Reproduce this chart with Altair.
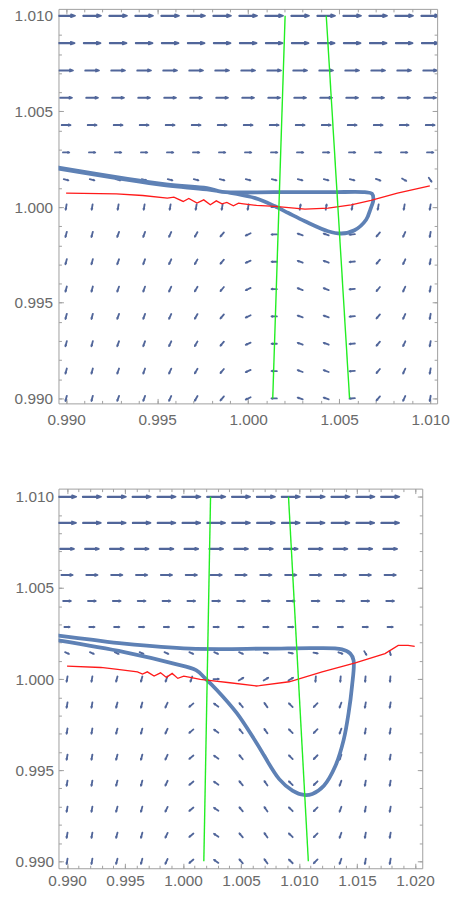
import altair as alt
import pandas as pd

# ---------------- data: top panel (A) ----------------
A_cols = [0.99, 0.991429, 0.992857, 0.994286, 0.995714, 0.997143, 0.998571, 1.0,
          1.001429, 1.002857, 1.004286, 1.005714, 1.007143, 1.008571, 1.01]
A_rows = [1.01, 1.008571, 1.007143, 1.005714, 1.004286, 1.002857, 1.001429, 1.0,
          0.998571, 0.997143, 0.995714, 0.994286, 0.992857, 0.991429, 0.99]
A_speed = [18, 17, 14, 12, 9, 6.5, 5, 5.5, 5.5, 5.5, 5.5, 5.5, 5.5, 5.5, 5.5]
A_dir_row6 = [-15] * 12 + [-20, -30, -55]
A_dir_row7 = [260] * 8 + [0, 80, 80] + [260] * 4
A_dir_low = [255, 255, 250, 250, 245, 240, 230, 205, 180, 160, 160, 185, 230, 245, 260]

A_blue_x = [0.98958, 0.99549, 0.99774, 1.00039, 1.00148, 1.00221, 1.00312, 1.00439, 1.00511,
            1.00584, 1.00648, 1.00672, 1.00688, 1.00680, 1.00640, 1.00457, 1.00148, 0.99857,
            0.99774, 0.99549, 0.98958]
A_blue_y = [1.00201, 1.00113, 1.00092, 1.00047, 1.00004, 0.99969, 0.99926, 0.99874, 0.99862,
            0.99879, 0.99934, 0.99990, 1.00040, 1.00070, 1.00078, 1.00078, 1.00078, 1.00080,
            1.00099, 1.00119, 1.00207]

A_red_x = [0.99000, 0.99276, 0.99421, 0.99556, 0.99592, 0.99643, 0.99674, 0.99719, 0.99756,
           0.99792, 0.99825, 0.99856, 0.99883, 0.99919, 0.99947, 0.99974, 1.00046, 1.00148,
           1.00312, 1.00439, 1.00566, 1.00675, 1.00820, 1.00998]
A_red_y = [1.000725, 1.000689, 1.000606, 1.000466, 1.000518, 1.000295, 1.000451, 1.000207,
           1.000378, 1.000119, 1.000326, 1.000171, 1.000244, 1.000067, 1.000207, 1.000171,
           1.000088, 1.000036, 0.999896, 0.999948, 1.000119, 1.000347, 1.000725, 1.001104]

A_green1_x = [1.00135, 1.00203]
A_green2_x = [1.00557, 1.00429]
green_y = [0.990, 1.010]

# ---------------- data: bottom panel (B) ----------------
B_cols = [0.99, 0.992143, 0.994286, 0.996429, 0.998571, 1.000714, 1.002857, 1.005,
          1.007143, 1.009286, 1.011429, 1.013571, 1.015714, 1.017857]
B_rows = A_rows
B_speed = [18.5, 18, 14, 11.5, 8, 5.5, 4.5, 5.5, 5.5, 5.5, 5.5, 5.5, 5.5, 5.5, 5.5]
B_dir_row6 = [-25] * 8 + [-10, -10, -10, -20, -60, -75]
B_dir_row7 = [260, 260, 255, 255, 250, 250, 0, 30, 30, 30, 265, 265, 265, 265]
B_dir_low = [260, 260, 255, 255, 245, 220, 145, 130, 125, 135, 225, 250, 260, 260]

B_blue_x = [0.98926, 0.99493, 0.99920, 1.00112, 1.00191, 1.00291, 1.00462, 1.00632, 1.00829,
            1.00943, 1.01043, 1.01114, 1.01214, 1.01313, 1.01385, 1.01427, 1.01456, 1.01470,
            1.01442, 1.01370, 1.01143, 1.00715, 1.00062, 0.99493, 0.99208, 0.98926]
B_blue_y = [1.00212, 1.00148, 1.00085, 1.00049, 1.00004, 0.99940, 0.99814, 0.99651, 0.99451,
            0.99388, 0.99364, 0.99370, 0.99415, 0.99523, 0.99668, 0.99814, 0.99958, 1.00103,
            1.00140, 1.00163, 1.00170, 1.00167, 1.00167, 1.00194, 1.00216, 1.00239]

B_red_x = [0.99000, 0.99291, 0.99436, 0.99607, 0.99650, 0.99692, 0.99750, 0.99806, 0.99857,
           0.99906, 0.99955, 1.00006, 1.00062, 1.00148, 1.00205, 1.00404, 1.00632, 1.00658,
           1.00915, 1.01199, 1.01485, 1.01741, 1.01855, 1.01940, 1.01997]
B_red_y = [1.000707, 1.000636, 1.000527, 1.000397, 1.000272, 1.000397, 1.000163, 1.000342,
           1.000092, 1.000310, 1.000038, 1.000163, 1.000092, 0.999984, 0.999946, 0.999799,
           0.999620, 0.999636, 0.999853, 1.000397, 1.000886, 1.001397, 1.001848, 1.001848,
           1.001793]

B_green1_x = [1.00179, 1.00237]
B_green2_x = [1.01080, 1.00909]

A_xticks = [0.990, 0.995, 1.000, 1.005, 1.010]
B_xticks = [0.990, 0.995, 1.000, 1.005, 1.010, 1.015, 1.020]
yticks = [0.990, 0.995, 1.000, 1.005, 1.010]

# ---------------- styling ----------------
ARROW = "#51669a"
BLUE = "#5E81B5"
RED = "#ff1a1a"
GREEN = "#22ee22"
FRAME = "#a0a0a0"
LABEL = "#6a6a6a"
FONT = "Liberation Sans"
ARROW_SHAPE = "M-1,-0.03L0.55,-0.03L0.55,-0.16L1,0L0.55,0.16L0.55,0.03L-1,0.03Z"
PX_PER_SPEED = 1.0


def minor_values(lo, hi):
    n = int(round((hi - lo) / 0.001))
    return [round(lo + 0.001 * k, 3) for k in range(n + 1)]


def axis(orient, values, size, labels, pad=6):
    kw = dict(orient=orient, values=values, tickSize=size, offset=-size, domain=False,
              grid=False, ticks=True, labels=labels, tickColor=FRAME, tickWidth=1)
    if labels:
        kw.update(format=".3f", labelPadding=pad, labelFont=FONT, labelFontSize=15.5,
                  labelColor=LABEL, labelOverlap=False)
    return alt.Axis(**kw)


def arrow_table(cols, rows, speed, d6, d7, dlow):
    recs = []
    for j, y in enumerate(rows):
        if j <= 5:
            dirs = [0] * len(cols)
        elif j == 6:
            dirs = d6
        elif j == 7:
            dirs = d7
        else:
            dirs = dlow
        L = speed[j] * PX_PER_SPEED
        for i, x in enumerate(cols):
            recs.append({"x": x, "y": y, "size": L * L, "ang": (360 - dirs[i]) % 360})
    return pd.DataFrame(recs)


def panel(cols, rows, speed, d6, d7, dlow, bx, by, rx, ry, g1, g2,
          xdom, ydom, w, h, xticks, xpad, ypad):
    xs = alt.Scale(domain=xdom, zero=False, nice=False)
    ys = alt.Scale(domain=ydom, zero=False, nice=False)
    xmin = minor_values(0.990, xticks[-1])
    ymin = minor_values(0.990, 1.010)

    arr = alt.Chart(arrow_table(cols, rows, speed, d6, d7, dlow)).mark_point(
        shape=ARROW_SHAPE, filled=True, fill=ARROW, stroke=ARROW, strokeWidth=1.7,
        strokeJoin="round", opacity=1, clip=True
    ).encode(
        x=alt.X("x:Q", scale=xs, axis=axis("bottom", xticks, 5, True, xpad), title=None),
        y=alt.Y("y:Q", scale=ys, axis=axis("left", yticks, 5, True, ypad), title=None),
        size=alt.Size("size:Q", scale=None),
        angle=alt.Angle("ang:Q", scale=None),
    )

    bdf = pd.DataFrame({"x": bx, "y": by, "o": list(range(len(bx)))})
    blue = alt.Chart(bdf).mark_line(
        color=BLUE, strokeWidth=3.8, interpolate="catmull-rom", strokeCap="round",
        strokeJoin="round", clip=True
    ).encode(
        x=alt.X("x:Q", scale=xs, axis=axis("bottom", xmin, 3, False), title=None),
        y=alt.Y("y:Q", scale=ys, axis=axis("left", ymin, 3, False), title=None),
        order="o:Q",
    )

    rdf = pd.DataFrame({"x": rx, "y": ry})
    red = alt.Chart(rdf).mark_line(color=RED, strokeWidth=1.3, clip=True).encode(
        x=alt.X("x:Q", scale=xs, axis=axis("top", xticks, 5, False), title=None),
        y=alt.Y("y:Q", scale=ys, axis=axis("right", yticks, 5, False), title=None),
    )

    gdf = pd.DataFrame({
        "x": g1 + g2,
        "y": green_y + green_y,
        "id": ["a", "a", "b", "b"],
    })
    green = alt.Chart(gdf).mark_line(color=GREEN, strokeWidth=1.4, clip=True).encode(
        x=alt.X("x:Q", scale=xs, axis=axis("top", xmin, 3, False), title=None),
        y=alt.Y("y:Q", scale=ys, axis=axis("right", ymin, 3, False), title=None),
        detail="id:N",
    )

    return alt.layer(arr, blue, red, green).resolve_axis(
        x="independent", y="independent"
    ).properties(width=w, height=h)


top = panel(A_cols, A_rows, A_speed, A_dir_row6, A_dir_row7, A_dir_low,
            A_blue_x, A_blue_y, A_red_x, A_red_y, A_green1_x, A_green2_x,
            [0.98958, 1.01038], [0.98974, 1.01036], 382, 398, A_xticks, 9, 6)
bottom = panel(B_cols, B_rows, B_speed, B_dir_row6, B_dir_row7, B_dir_low,
               B_blue_x, B_blue_y, B_red_x, B_red_y, B_green1_x, B_green2_x,
               [0.98926, 1.02062], [0.98962, 1.01045], 367, 383, B_xticks, 5, 5)

chart = alt.vconcat(top, bottom, spacing=60).properties(
    padding={"left": 13, "top": 4, "right": 0, "bottom": 0},
    background="white",
).configure_view(stroke=FRAME, strokeWidth=1)

chart.save("out.html", embed_options={"renderer": "svg", "actions": False})
